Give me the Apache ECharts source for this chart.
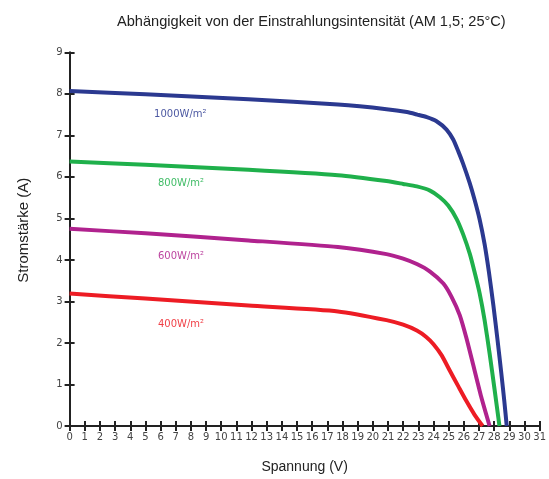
<!DOCTYPE html>
<html>
<head>
<meta charset="utf-8">
<script src="https://cdn.jsdelivr.net/npm/echarts@6/dist/echarts.min.js"></script>
<style>html,body{margin:0;padding:0;background:#fff}#c{width:549px;height:479px}</style>
</head>
<body>
<div id="c"></div>
<script>
var seriesNames = ['1000W/m²', '800W/m²', '600W/m²', '400W/m²'];
var curve1000 = [[0,8.07],[5,7.99],[11.8,7.87],[17.7,7.74],[20.9,7.63],[22.25,7.56],[22.93,7.50],[23.56,7.44],[24.2,7.34],[24.86,7.14],[25.3,6.90],[25.63,6.62],[25.95,6.32],[26.39,5.85],[26.71,5.45],[27.04,4.98],[27.37,4.38],[27.65,3.72],[27.95,2.90],[28.22,2.08],[28.47,1.28],[28.67,0.60],[28.83,0]];
var curve800 = [[0,6.37],[5,6.29],[11.8,6.17],[17.7,6.04],[20.9,5.90],[22.0,5.83],[22.9,5.77],[23.77,5.67],[24.42,5.51],[24.97,5.31],[25.52,4.99],[25.95,4.62],[26.39,4.15],[26.7,3.72],[27.04,3.20],[27.37,2.55],[27.7,1.75],[28.02,0.90],[28.35,0]];
var curve600 = [[0,4.75],[5,4.64],[11.8,4.47],[17.7,4.31],[20.9,4.14],[22.0,4.03],[22.9,3.90],[23.77,3.72],[24.65,3.43],[25.19,3.11],[25.73,2.67],[26.17,2.12],[26.6,1.50],[27.15,0.70],[27.7,0]];
var curve400 = [[0,3.19],[5,3.07],[11.8,2.90],[17.7,2.76],[20.9,2.55],[22.0,2.44],[22.9,2.30],[23.5,2.15],[24.0,1.97],[24.54,1.70],[25.08,1.33],[25.63,0.96],[26.17,0.60],[26.71,0.27],[27.24,0]];
var curves = [curve1000, curve800, curve600, curve400];

var colors = ['#2b3990', '#1fb04b', '#b0228e', '#ed1c24'];
var labelAnchors = [[7.3, 7.5], [7.35, 5.85], [7.35, 4.08], [7.35, 2.44]];

var chart = echarts.init(document.getElementById('c'));
var series = curves.map(function (d, i) {
  return {
    type: 'line',
    name: seriesNames[i],
    data: d,
    xAxisIndex: 0,
    yAxisIndex: 0,
    smooth: 0.2,
    showSymbol: false,
    symbol: 'none',
    lineStyle: { color: colors[i], width: 4, join: 'round' },
    z: 5,
    markPoint: {
      symbol: 'circle',
      symbolSize: 0,
      silent: true,
      data: [{ coord: labelAnchors[i], value: seriesNames[i] }],
      label: {
        show: true,
        position: 'inside',
        formatter: seriesNames[i],
        color: colors[i],
        fontFamily: 'DejaVu Sans',
        fontSize: 10,
        opacity: 0.85
      }
    }
  };
});

var tickLabelStyle = { color: '#444', fontFamily: 'DejaVu Sans', fontSize: 10 };
var option = {
  animation: false,
  backgroundColor: '#fff',
  title: {
    text: 'Abhängigkeit von der Einstrahlungsintensität (AM 1,5; 25°C)',
    left: 112,
    top: 9,
    textStyle: { fontFamily: 'Liberation Sans', fontSize: 14.6, fontWeight: 'normal', color: '#222' }
  },
  grid: { left: 69.6, right: 4.5, top: 52.3, bottom: 50.5 },
  xAxis: [{
    type: 'value', min: 0, max: 31, interval: 1, position: 'bottom',
    name: 'Spannung (V)', nameLocation: 'middle', nameGap: 34,
    nameTextStyle: { fontFamily: 'Liberation Sans', fontSize: 14, color: '#222' },
    axisLine: { show: true, onZero: false, lineStyle: { color: '#222', width: 2 } },
    axisTick: { show: true, inside: false, length: 5, lineStyle: { color: '#222', width: 2 } },
    axisLabel: Object.assign({ margin: 6 }, tickLabelStyle),
    splitLine: { show: false }
  }, {
    type: 'value', min: 0, max: 31, interval: 1, position: 'bottom',
    axisLine: { show: false },
    axisTick: { show: true, inside: true, length: 5, lineStyle: { color: '#222', width: 2 } },
    axisLabel: { show: false },
    splitLine: { show: false }
  }],
  yAxis: [{
    type: 'value', min: 0, max: 9, interval: 1, position: 'left',
    name: 'Stromstärke (A)', nameLocation: 'middle', nameGap: 38, nameRotate: 90,
    nameTextStyle: { fontFamily: 'Liberation Sans', fontSize: 15, color: '#222', padding: [0, 0, 0, 18] },
    axisLine: { show: true, onZero: false, lineStyle: { color: '#222', width: 2 } },
    axisTick: { show: true, inside: false, length: 5, lineStyle: { color: '#222', width: 2 } },
    axisLabel: Object.assign({ margin: 7 }, tickLabelStyle),
    splitLine: { show: false }
  }, {
    type: 'value', min: 0, max: 9, interval: 1, position: 'left',
    axisLine: { show: false },
    axisTick: { show: true, inside: true, length: 5, lineStyle: { color: '#222', width: 2 } },
    axisLabel: { show: false },
    splitLine: { show: false }
  }],
  series: series
};
chart.setOption(option);
</script>
</body>
</html>
